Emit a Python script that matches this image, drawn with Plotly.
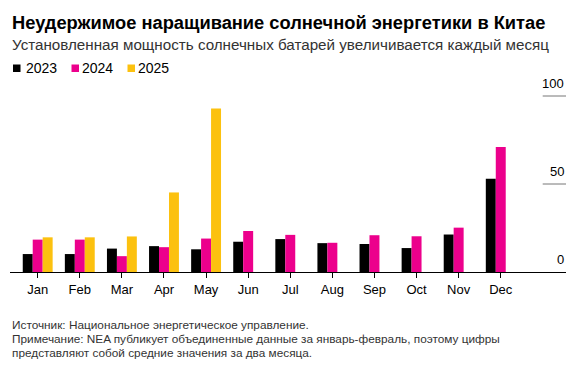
import plotly.graph_objects as go

months = ["Jan", "Feb", "Mar", "Apr", "May", "Jun", "Jul", "Aug", "Sep", "Oct", "Nov", "Dec"]
y2023 = [10.2, 10.2, 13.3, 14.7, 12.9, 17.2, 18.7, 16.4, 15.9, 13.6, 21.3, 53.0]
y2024 = [18.4, 18.4, 9.0, 14.1, 19.0, 23.3, 21.1, 16.6, 20.9, 20.3, 25.2, 71.0]
y2025 = [19.7, 19.7, 20.2, 45.2, 92.9, None, None, None, None, None, None, None]
years = ["2023", "2024", "2025"]
colors = ["#000000", "#ec008c", "#fcc10f"]
ytick_vals = [0, 50, 100]

title = "Неудержимое наращивание солнечной энергетики в Китае"
subtitle = "Установленная мощность солнечных батарей увеличивается каждый месяц"
notes = [
    "Источник: Национальное энергетическое управление.",
    "Примечание: NEA публикует объединенные данные за январь-февраль, поэтому цифры",
    "представляют собой средние значения за два месяца.",
]

FONT = "Liberation Sans, Arial, sans-serif"
OFF = 8  # page body margin in the browser
W, H = 584 - OFF, 380 - OFF
ML, MR, MT, MB = 10 - OFF, 18, 80 - OFF, 108
PW, PH = W - ML - MR, H - MT - MB

def px_x(px):
    return (px - OFF - ML) / PW

def px_y(py):
    return (H - MB - (py - OFF)) / PH

fig = go.Figure()
for name, vals, col in zip(years, [y2023, y2024, y2025], colors):
    fig.add_trace(go.Bar(x=months, y=vals, name=name, marker_color=col,
                         marker_line_width=0, showlegend=False))

shapes = []
annotations = []

annotations.append(dict(text="<b>" + title + "</b>", x=0, y=px_y(22.7), xref="paper", yref="paper",
                        xanchor="left", yanchor="middle", showarrow=False,
                        font=dict(family=FONT, size=18.3, color="#000")))
annotations.append(dict(text=subtitle, x=0, y=px_y(45), xref="paper", yref="paper",
                        xanchor="left", yanchor="middle", showarrow=False,
                        font=dict(family=FONT, size=15.2, color="#333")))

sq = [(13, 20.5, 24), (71.5, 79, 80), (127.5, 135, 135.5)]
for (x0, x1, tx), name, col in zip(sq, years, colors):
    shapes.append(dict(type="rect", xref="paper", yref="paper", x0=px_x(x0), x1=px_x(x1),
                       y0=px_y(72), y1=px_y(64.5), fillcolor=col, line_width=0))
    annotations.append(dict(text=name, x=px_x(tx), y=px_y(68.3), xref="paper", yref="paper",
                            xanchor="left", yanchor="middle", showarrow=False,
                            font=dict(family=FONT, size=14, color="#000")))

for v in ytick_vals:
    if v > 0:
        shapes.append(dict(type="line", xref="paper", yref="y", x0=px_x(542.7), x1=1, y0=v, y1=v,
                           line=dict(color="#777", width=1)))
    annotations.append(dict(text=str(v), x=1, y=v, xref="paper", yref="y", xanchor="right",
                            yanchor="bottom", yshift=3, showarrow=False,
                            font=dict(family=FONT, size=13, color="#000")))

for t, py in zip(notes, [325, 339, 353]):
    annotations.append(dict(text=t, x=0, y=px_y(py), xref="paper", yref="paper",
                            xanchor="left", yanchor="middle", showarrow=False,
                            font=dict(family=FONT, size=11.8, color="#333")))

fig.update_layout(
    width=W, height=H,
    margin=dict(l=ML, r=MR, t=MT, b=MB),
    paper_bgcolor="white", plot_bgcolor="white",
    barmode="group", bargap=0.29, bargroupgap=0,
    shapes=shapes, annotations=annotations,
    font=dict(family=FONT, color="#000"),
)
fig.update_xaxes(range=[-0.658, 12.55], showline=True, linecolor="#000", linewidth=1,
                 ticks="outside", ticklen=5, tickcolor="#000", tickwidth=1,
                 showgrid=False, tickfont=dict(family=FONT, size=13, color="#000"))
fig.update_yaxes(range=[0, PH / 1.76], visible=False, showgrid=False, zeroline=False)

fig.write_html("out.html")
